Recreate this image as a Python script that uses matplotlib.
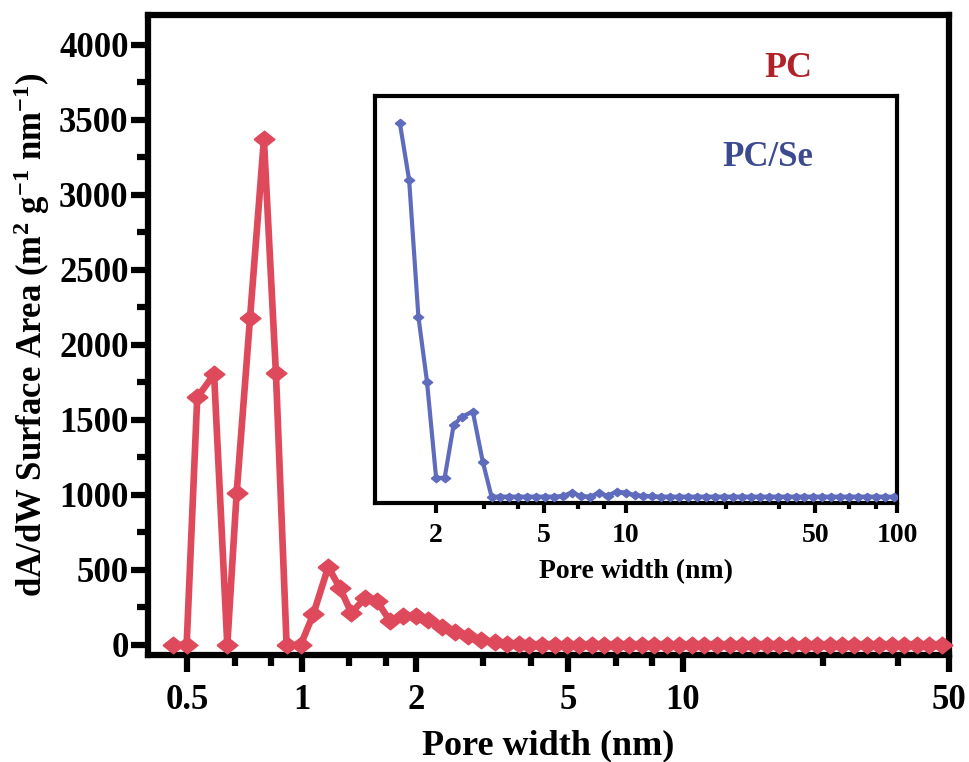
import matplotlib
matplotlib.use("Agg")
import matplotlib.pyplot as plt
from matplotlib.ticker import FixedLocator, FixedFormatter, NullFormatter, NullLocator

plt.rcParams['font.family'] = ['Liberation Serif', 'DejaVu Serif']
plt.rcParams['font.weight'] = 'bold'
plt.rcParams['mathtext.fontset'] = 'custom'
plt.rcParams['mathtext.rm'] = 'Liberation Serif:bold'
plt.rcParams['mathtext.default'] = 'rm'

# PC pore size distribution (dA/dW, m2 g-1 nm-1)
pc_width = [0.459, 0.499, 0.532, 0.589, 0.638, 0.675, 0.732, 0.796, 0.856, 0.913,
            0.994, 1.073, 1.174, 1.26, 1.35, 1.466, 1.579, 1.705, 1.848, 1.995,
            2.15, 2.33, 2.52, 2.74, 2.96, 3.21, 3.45, 3.71,
            3.96, 4.27, 4.61, 4.97, 5.36, 5.78, 6.23, 6.72, 7.25, 7.82,
            8.43, 9.09, 9.81, 10.6, 11.4, 12.3, 13.3, 14.3, 15.4, 16.6,
            17.9, 19.4, 20.9, 22.5, 24.3, 26.2, 28.2, 30.4, 32.8, 35.4,
            38.2, 41.2, 44.4, 47.9]
pc_area = [0, 0, 1650, 1805, 0, 1010, 2180, 3370, 1810, 0,
           0, 205, 520, 380, 215, 310, 290, 160, 195, 195,
           165, 120, 85, 60, 35, 18, 8, 4,
           2, 1, 1, 0, 0, 0, 0, 0, 0, 0,
           0, 0, 0, 0, 0, 0, 0, 0, 0, 0,
           0, 0, 0, 0, 0, 0, 0, 0, 0, 0,
           0, 0, 0, 0]

# PC/Se pore size distribution (inset)
pcse_width = [1.47, 1.59, 1.72, 1.85, 2.0, 2.15, 2.32, 2.49, 2.73, 2.97,
              3.2, 3.44, 3.72, 4.01, 4.33, 4.67, 5.04, 5.43, 5.86, 6.32,
              6.82, 7.36, 7.94, 8.57, 9.25, 9.98, 10.8, 11.6, 12.5, 13.5,
              14.6, 15.7, 17.0, 18.3, 19.8, 21.3, 23.0, 24.8, 26.8, 28.9,
              31.2, 33.7, 36.3, 39.2, 42.3, 45.6, 49.2, 53.1, 57.3, 61.8,
              66.7, 71.9, 77.6, 83.8, 90.4, 97.5]
pcse_area = [1120, 950, 540, 345, 55, 57, 215, 240, 255, 105,
             0, 0, 0, 0, 0, 0, 0, 0, 2, 12,
             2, 0, 10, 3, 15, 12, 4, 2, 1, 0,
             0, 0, 0, 0, 0, 0, 0, 0, 0, 0,
             0, 0, 0, 0, 0, 0, 0, 0, 0, 0,
             0, 0, 0, 0, 0, 0]

main_ticks = [0.5, 1, 2, 5, 10, 50]
main_labels = ['0.5', '1', '2', '5', '10', '50']
main_minor = [0.667, 0.833, 1.333, 1.667, 3, 4, 6.667, 8.333, 23.33, 36.67]
inset_ticks = [2, 5, 10, 50, 100]
inset_labels = ['2', '5', '10', '50', '100']
inset_minor = [3, 4, 6.667, 8.333, 23.33, 36.67, 66.67, 83.33]

red = '#DE4A5C'
blue = '#5F6CBE'
diamond = [(-1, 0), (0, 0.8), (1, 0), (0, -0.8), (-1, 0)]

fig = plt.figure(figsize=(9.69, 7.62), dpi=100)
ax = fig.add_axes([0.1527, 0.1404, 0.8266, 0.840])

ax.plot(pc_width, pc_area, color=red, lw=4.8, marker=diamond, ms=15,
        mec=red, mfc=red, clip_on=False, zorder=3)
ax.set_xscale('log')
ax.set_xlim(0.395, 50)
ax.set_ylim(-67, 4200)
ax.xaxis.set_major_locator(FixedLocator(main_ticks))
ax.xaxis.set_minor_locator(FixedLocator(main_minor))
ax.xaxis.set_major_formatter(FixedFormatter(main_labels))
ax.xaxis.set_minor_formatter(NullFormatter())
ax.set_yticks(range(0, 4001, 500))
ax.yaxis.set_minor_locator(FixedLocator(range(250, 4000, 500)))
for s in ax.spines.values():
    s.set_linewidth(4.5)
ax.tick_params(which='major', direction='out', length=12, width=4.5, labelsize=25, pad=9)
ax.tick_params(which='minor', direction='out', length=8, width=4.5)
ax.tick_params(axis='y', which='major', pad=2)
ax.set_xlabel('Pore width (nm)', fontsize=26, fontweight='bold', labelpad=9)
ax.set_ylabel(r'dA/dW Surface Area (m$^{2}$ g$^{-1}$ nm$^{-1}$)', fontsize=25,
              fontweight='bold', labelpad=5)
ax.text(0.799, 0.917, 'PC', transform=ax.transAxes, ha='center', va='center',
        fontsize=26, fontweight='bold', color='#AF2328')

# inset: PC/Se
ins = fig.add_axes([0.387, 0.3395, 0.5387, 0.5345])
ins.plot(pcse_width, pcse_area, color=blue, lw=3, marker=diamond, ms=7.5,
         mec=blue, mfc=blue, zorder=3)
ins.set_xscale('log')
ins.set_xlim(1.19, 100)
ins.set_ylim(-20, 1202)
ins.xaxis.set_major_locator(FixedLocator(inset_ticks))
ins.xaxis.set_minor_locator(FixedLocator(inset_minor))
ins.xaxis.set_major_formatter(FixedFormatter(inset_labels))
ins.xaxis.set_minor_formatter(NullFormatter())
ins.yaxis.set_major_locator(NullLocator())
ins.yaxis.set_minor_locator(NullLocator())
for s in ins.spines.values():
    s.set_linewidth(3)
ins.tick_params(which='major', direction='out', length=7, width=3, labelsize=20, pad=7)
ins.tick_params(which='minor', direction='out', length=4, width=3)
ins.set_xlabel('Pore width (nm)', fontsize=20, fontweight='bold', labelpad=8)
ins.text(0.753, 0.850, 'PC/Se', transform=ins.transAxes, ha='center', va='center',
         fontsize=25, fontweight='bold', color='#3C4A90')

fig.savefig('out.png', dpi=100)
